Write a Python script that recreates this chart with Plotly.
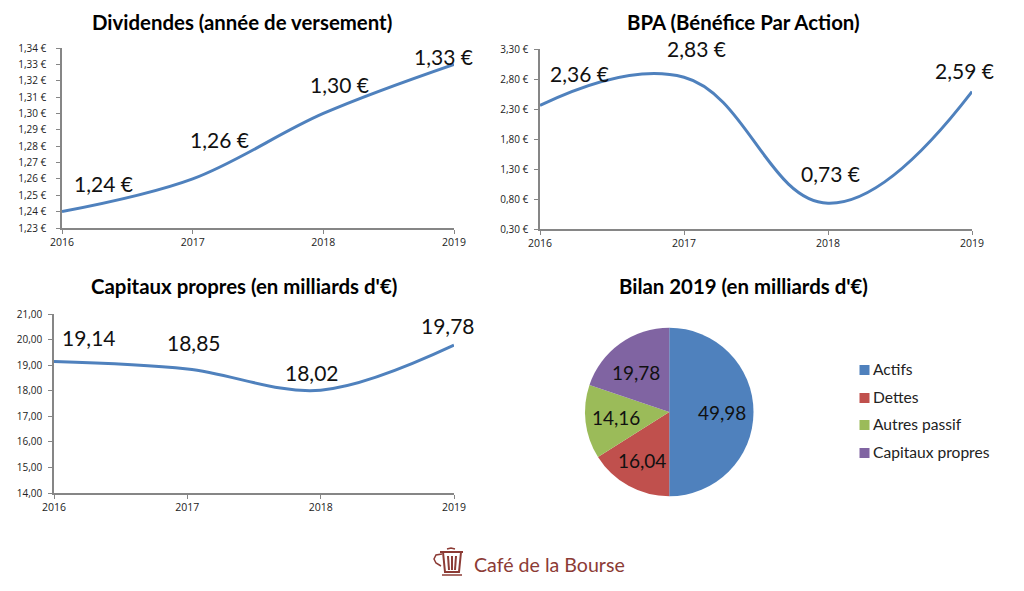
import plotly.graph_objects as go

W, H = 1024, 591
years = [2016, 2017, 2018, 2019]
dividendes = [1.24, 1.26, 1.30, 1.33]
bpa = [2.36, 2.83, 0.73, 2.59]
capitaux = [19.14, 18.85, 18.02, 19.78]
pie_labels = ["Actifs", "Dettes", "Autres passif", "Capitaux propres"]
pie_values = [49.98, 16.04, 14.16, 19.78]
pie_colors = ["#4F81BD", "#C0504D", "#9BBB59", "#8064A2"]
titles = ["Dividendes (année de versement)", "BPA (Bénéfice Par Action)",
          "Capitaux propres (en milliards d'€)", "Bilan 2019 (en milliards d'€)"]

FONT = "Lato"
YTICKFONT = dict(family="Open Sans", size=10, color="#222222")
XTICKFONT = dict(family="Open Sans", size=10.5, color="#222222")
LOGO = "#8C3B35"


def fx(p):
    return p / W


def fy(p):
    return 1 - p / H


panels = [
    dict(y=dividendes, box=(62, 454, 48, 228), rng=(1.23, 1.34), dt=0.01, suffix=" €", fmt=".2f",
         lab="{:.2f} €", off=[(41, 28), (27, 39), (16, 29), (-11, 8)], smooth=1.0, standoff=8),
    dict(y=bpa, box=(540, 972, 49, 229), rng=(0.3, 3.3), dt=0.5, suffix=" €", fmt=".2f",
         lab="{:.2f} €", off=[(39, 32), (12, 29), (2, 30), (-8, 21)], smooth=1.2, standoff=4),
    dict(y=capitaux, box=(54, 454, 314, 493), rng=(14, 21), dt=1, suffix="", fmt=".2f",
         lab="{:.2f}", off=[(35, 24), (7, 26), (-9, 18), (-6, 20)], smooth=1.0, standoff=4),
]

fig = go.Figure()
annotations = []
layout_axes = {}
for i, p in enumerate(panels, start=1):
    s = "" if i == 1 else str(i)
    x0, x1, y0, y1 = p["box"]
    fig.add_trace(go.Scatter(x=years, y=p["y"], mode="lines", xaxis="x" + s, yaxis="y" + s,
                             line=dict(color="#4F81BD", width=3, shape="spline", smoothing=p["smooth"]),
                             showlegend=False, hoverinfo="x+y", cliponaxis=False))
    layout_axes["xaxis" + s] = dict(domain=[fx(x0), fx(x1)], range=[2016, 2019], anchor="y" + s,
                                    tickvals=years, ticks="outside", ticklen=4, tickcolor="#868686",
                                    showline=True, linecolor="#868686", linewidth=1.5, showgrid=False,
                                    zeroline=False, tickfont=XTICKFONT)
    layout_axes["yaxis" + s] = dict(domain=[fy(y1), fy(y0)], range=list(p["rng"]), anchor="x" + s,
                                    dtick=p["dt"], tick0=p["rng"][0], ticks="outside", ticklen=4,
                                    tickcolor="#868686", showline=True, linecolor="#868686", linewidth=1.5,
                                    showgrid=False, zeroline=False, tickfont=YTICKFONT,
                                    tickformat=p["fmt"], ticksuffix=p["suffix"],
                                    ticklabelstandoff=p["standoff"])
    for yr, v, (dx, dy) in zip(years, p["y"], p["off"]):
        annotations.append(dict(x=yr, y=v, xref="x" + s, yref="y" + s, text=p["lab"].format(v).replace(".", ","),
                                showarrow=False, xshift=dx, yshift=dy, xanchor="center", yanchor="middle",
                                font=dict(family=FONT, size=21, color="#111111")))

fig.add_trace(go.Pie(labels=pie_labels, values=pie_values, sort=False, direction="clockwise", rotation=0,
                     marker=dict(colors=pie_colors, line=dict(width=0)),
                     textinfo="none",
                     domain=dict(x=[fx(585), fx(753.5)], y=[fy(496.5), fy(327.5)]),
                     showlegend=False, hoverinfo="label+value"))

pie_label_pos = [(722, 412), (642, 460), (616, 417), (636, 372)]
for v, (px_, py_) in zip(pie_values, pie_label_pos):
    annotations.append(dict(x=fx(px_), y=fy(py_), xref="paper", yref="paper",
                            text=f"{v:.2f}".replace(".", ","), showarrow=False,
                            xanchor="center", yanchor="middle",
                            font=dict(family=FONT, size=19, color="#111111")))

title_pos = [(242, 22), (743, 22), (244, 286), (743, 286)]
for t, (tx, ty) in zip(titles, title_pos):
    annotations.append(dict(x=fx(tx), y=fy(ty), xref="paper", yref="paper", text="<b>" + t + "</b>",
                            showarrow=False, xanchor="center", yanchor="middle",
                            font=dict(family=FONT, size=20.4, color="#000000")))

annotations.append(dict(x=fx(549), y=fy(564), xref="paper", yref="paper", text="Café de la Bourse",
                        showarrow=False, xanchor="center", yanchor="middle",
                        font=dict(family=FONT, size=19.6, color=LOGO)))


def path(points, close=False):
    d = "M" + " L".join(f"{fx(a):.5f},{fy(b):.5f}" for a, b in points)
    return d + (" Z" if close else "")


def logo_line(pts, width=2):
    return dict(type="path", xref="paper", yref="paper", path=path(pts), line=dict(color=LOGO, width=width))


shapes = [
    logo_line([(440, 552), (463, 552)], 2),
    logo_line([(443, 552), (445, 572), (459, 572), (461, 552)], 2),
    logo_line([(448, 556), (449, 570)], 2),
    logo_line([(452, 556), (452, 570)], 2),
    logo_line([(456, 556), (455, 570)], 2),
    logo_line([(442, 575), (462, 575)], 1.5),
    logo_line([(442, 554), (436, 555), (434, 559), (436, 563), (441, 566)], 1.5),
    logo_line([(447, 549), (451, 548), (455, 549)], 1.5),
]

# Pie key: a coloured square and a label per slice
key_rows = [370, 398, 425, 453]
for lab, col, ky in zip(pie_labels, pie_colors, key_rows):
    shapes.append(dict(type="rect", xref="paper", yref="paper", x0=fx(859.5), x1=fx(869.5),
                       y0=fy(ky + 5), y1=fy(ky - 5), fillcolor=col, line=dict(width=0)))
    annotations.append(dict(x=fx(871), y=fy(ky - 1), xref="paper", yref="paper", text=lab, showarrow=False,
                            xanchor="left", yanchor="middle",
                            font=dict(family=FONT, size=15.6, color="#222222")))

fig.update_layout(width=W, height=H, margin=dict(l=0, r=0, t=0, b=0, autoexpand=False), autosize=False,
                  paper_bgcolor="white", plot_bgcolor="white", separators=", ", showlegend=False,
                  annotations=annotations, shapes=shapes, **layout_axes)

fig.write_html("out.html", config=dict(displayModeBar=False),
               post_script="document.body.style.margin='0';")
